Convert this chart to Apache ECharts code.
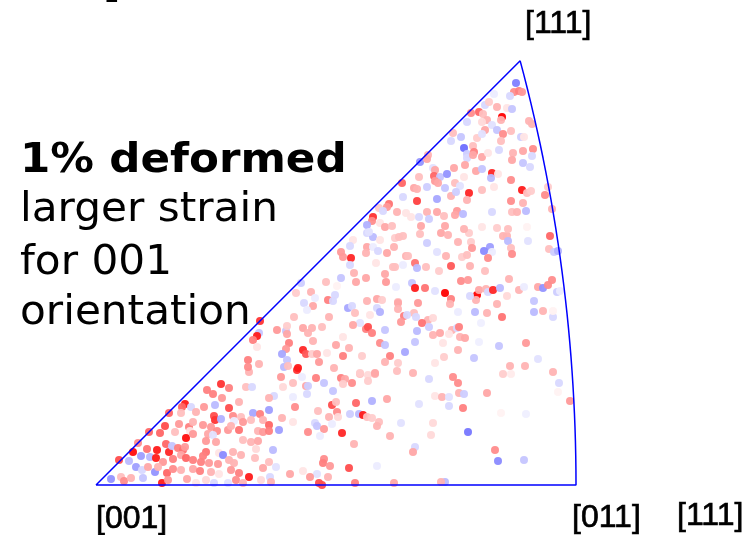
<!DOCTYPE html>
<html>
<head>
<meta charset="utf-8">
<script src="https://cdn.jsdelivr.net/npm/echarts@6/dist/echarts.min.js"></script>
<style>
  html, body { margin: 0; padding: 0; background: #fff; }
  #chart { width: 749px; height: 535px; }
</style>
</head>
<body>
<div id="chart"></div>
<script>
// Inverse pole figure: grains plotted in the stereographic [001]-[011]-[111] triangle.
// Each grain: [projected x, projected y, strain deviation (-1 = low / blue, +1 = high / red)]
// Projected units: the [001] pole is at the origin and [011] lies at x = 480.

const grainsNear001 = [
  [153,113,0.3],[125,101,0.8],[133,97,0.5],[111,95,0.5],[117,91,0.5],[150,98,0.25],[156,98,-0.2],[185,108,0.4],[187,98,0.15],[126,87,0.4],
  [89,81,0.9],[86,78,0.6],[95,78,-0.2],[108,78,0.4],[119,80,-0.35],[133,77,0.7],[143,83,0.3],[178,89,-0.2],[173,87,0.3],[173,75,-0.5],
  [157,72,-0.45],[164,71,0.5],[73,72,0.6],[85,72,0.25],[100,73,0.3],[118,69,0.7],[119,65,0.8],[125,66,-0.4],[137,69,0.45],[145,68,0.25],
  [155,65,0.25],[147,63,0.4],[138,64,-0.1],[167,65,0.3],[173,60,0.6],[186,67,0.3],[183,55,-0.5],[69,59,0.7],[83,61,0.4],[93,58,0.5],
  [97,63,0.3],[94,54,0.1],[107,60,0.4],[115,58,0.4],[121,54,0.45],[132,55,0.4],[135,59,0.3],[143,55,0.55],[162,54,0.3],[167,53,0.4],
  [173,54,0.5],[53,53,0.6],[64,52,0.6],[79,53,0.25],[90,47,0.95],[97,51,0.4],[112,51,0.35],[117,50,-0.15],[110,44,0.4],[120,43,0.35],
  [147,45,0.25],[155,43,0.3],[162,44,0.35],[42,42,0.45],[51,36,0.55],[61,35,0.9],[70,41,0.6],[73,33,0.85],[76,39,-0.3],[82,37,0.5],
  [87,35,0.55],[89,38,0.4],[85,30,0.35],[110,33,0.55],[107,29,0.5],[123,32,0.1],[127,30,-0.6],[145,30,0.3],[137,33,0.3],[160,36,0.15],
  [177,35,-0.35],[37,33,0.95],[23,25,0.7],[33,24,-0.35],[45,29,-0.5],[54,28,-0.35],[60,27,0.9],[67,23,0.4],[77,26,0.5],[90,27,0.6],
  [97,25,0.5],[105,23,0.5],[113,22,0.4],[122,21,0.4],[133,25,0.3],[138,22,0.3],[159,27,0.25],[173,23,0.25],[40,18,-0.5],[46,15,-0.2],
  [52,18,0.35],[59,13,-0.55],[62,18,0.3],[71,12,0.6],[77,16,0.45],[85,15,0.3],[97,16,0.35],[104,14,0.5],[115,13,0.3],[123,11,0.1],
  [135,15,0.4],[143,12,0.5],[153,8,0.9],[167,17,0.35],[180,18,-0.15],[15,6,-0.55],[25,8,0.25],[28,4,0.45],[35,7,0.3],[47,7,-0.3],
  [66,2,0.9],[72,5,0.4],[91,6,0.35],[100,2,0.1],[110,5,0.15],[118,2,-0.2],[132,2,-0.15],[140,5,0.45],[147,2,0.3],[165,5,0.15],
  [174,8,-0.2],[175,3,0.3]
];

const grainsLowMid = [
  [201,115,0.8],[206,108,-0.1],[220,107,0.5],[197,102,0.25],[210,99,0.35],[212,99,-0.25],[228,102,-0.3],[245,107,0.5],[249,106,0.35],
  [247,101,0.2],[256,102,0.45],[264,111,0.25],[272,110,0.15],[279,111,0.3],[272,104,0.2],[301,114,0.25],[317,112,0.3],[333,106,-0.2],[237,94,-0.3],
  [211,91,-0.2],[197,88,-0.1],[199,78,0.45],[236,80,0.7],[240,83,0.25],[260,82,0.6],[276,84,-0.4],[291,86,0.35],[323,81,-0.15],[339,89,0.1],
  [222,74,0.25],[241,73,0.45],[233,68,0.3],[242,68,0.15],[254,71,-0.25],[263,71,-0.35],[267,70,0.9],[271,68,0.25],[276,67,0.2],[283,63,0.25],
  [281,59,0.3],[197,63,0.1],[219,62,-0.2],[221,59,-0.3],[236,61,-0.1],[305,62,-0.15],[337,62,0.15],
  [212,53,0.45],[228,56,0.4],[246,52,0.85],[224,49,-0.1],[294,49,0.3],[335,50,0.15],[258,41,0.3],[319,38,-0.2],[317,33,0.35],[228,26,0.45],
  [227,22,0.5],[234,19,0.4],[253,17,0.7],[281,19,-0.1],[207,14,0.1],[194,11,0.35],[221,11,-0.15],[214,8,0.4],[232,8,0.3],[223,2,0.7],
  [226,0,0.7],[259,2,0.5],[298,2,0.35]
];

const grainsLowRight = [
  [357,108,0.45],[362,102,0.45],[407,111,0.2],[415,111,0.08],[457,113,0.3],[463,102,-0.2],[462,93,0.05],[474,84,0.4],
  [346,88,0.3],[353,88,-0.15],[363,92,0.3],[368,91,-0.25],[391,92,0.35],[353,79,-0.2],[367,77,0.5],[405,72,0.05],[430,71,-0.08],
  [372,53,-0.7],[399,35,0.45],[402,24,-0.6],[428,25,-0.3],[349,3,-0.35],[345,3,0.3]
];

const grainsMidLeft = [
  [271,252,-0.2],[277,248,-0.35],[257,245,0.1],[254,239,-0.2],[271,238,0.35],[277,238,-0.1],[284,245,0.1],[299,247,0.2],[245,233,0.4],[247,228,0.4],
  [255,227,0.85],[270,232,0.3],[282,234,-0.2],[291,232,0.35],[254,220,-0.2],[280,222,0.1],[297,218,0.25],[258,212,0.3],[289,211,0.35],[245,207,-0.3],
  [260,203,0.35],[270,207,0.35],[290,203,0.4],[230,203,0.25],[205,202,-0.25],[241,199,0.05],[215,193,0.3],[200,192,0.2],[239,190,-0.2],[219,187,-0.1],
  [232,185,0.5],[237,184,-0.2],[271,184,0.3],[281,186,0.35],[286,185,0.2],[302,183,0.25],[208,182,-0.2],[217,179,0.35],[211,175,-0.1],[252,177,-0.45],
  [256,179,-0.2],[259,172,0.25],[264,162,-0.15],[281,177,-0.2],[284,173,-0.4],[274,170,0.1],[233,168,0.3],[257,160,0.35],[270,156,0.5],
  [272,158,0.7],[276,152,0.5],[289,155,-0.3],[198,168,0.25],[164,164,0.8],[163,152,-0.3],[161,149,0.9],[181,155,0.4],[190,154,-0.3],[191,151,0.35],
  [191,159,0.2],[207,157,0.35],[212,152,0.3],[216,157,0.3],[226,158,0.25],[247,148,0.1],[157,145,0.5],[161,138,0.1],[217,144,0.3],
  [193,142,0.5],[240,140,0.35],[253,137,0.3],[284,142,0.45],[289,140,-0.3],[190,136,0.4],[207,135,0.85],[210,131,0.65],[216,131,0.2],[221,131,0.35],
  [231,132,0.1],[247,129,0.5],[266,129,0.2],[294,129,0.5],[186,131,-0.45],[191,125,-0.3],[152,125,0.5],[152,118,0.45],[163,121,0.3],[188,118,-0.35],
  [192,119,0.25],[202,117,0.9],[223,123,0.4],[238,117,0.3],[264,112,0.2],[279,112,0.35],[289,123,0.3],[302,122,0.2]
];

const grainsMidRight = [
  [303,248,0.25],[307,249,0.25],[324,251,0.25],[345,252,0.35],[352,250,0.3],[373,252,0.2],[407,249,0.3],[411,249,0.3],[454,249,0.6],[331,242,-0.25],
  [362,243,0.3],[375,243,0.2],[412,244,-0.35],[432,244,-0.15],[376,237,0.4],[394,238,-0.5],[388,234,-0.6],[396,233,-0.1],[415,237,0.25],[416,231,0.45],
  [453,236,0.25],[458,233,-0.25],[462,234,-0.4],[298,238,0.3],[341,233,-0.15],[310,229,0.3],[312,229,0.25],[350,229,0.3],[366,228,0.2],[371,230,0.25],
  [392,227,0.45],[319,222,0.55],[321,217,-0.35],[330,218,0.25],[355,219,0.65],[374,219,0.3],[299,218,0.25],[343,214,0.2],[389,214,0.25],[307,220,-0.1],
  [316,202,-0.3],[300,198,-0.1],[319,197,0.9],[329,197,0.55],[339,194,-0.15],[349,192,1.0],[365,204,0.45],[372,205,0.4],[355,186,0.5],[354,181,0.3],
  [381,190,1.0],[380,185,0.3],[374,189,-0.2],[383,195,0.35],[390,196,0.3],[392,193,-0.2],[397,195,0.85],[404,197,-0.35],[411,189,0.15],[413,206,0.3],
  [423,195,0.3],[428,198,-0.1],[442,198,0.35],[447,197,-0.55],[452,200,0.45],[456,205,0.45],[461,193,-0.25],[464,194,-0.1],[302,182,0.35],
  [302,176,0.3],[322,182,0.4],[318,172,0.25],[320,168,-0.2],[308,169,0.5],[311,170,-0.2],[305,163,0.4],[332,165,0.3],[326,162,0.55],
  [333,158,-0.25],[337,167,0.15],[362,173,-0.1],[379,173,-0.35],[391,172,0.3],[401,181,0.3],[406,168,0.55],[385,162,-0.08],[438,184,-0.3],[438,173,-0.35],
  [447,174,0.3],[457,168,-0.2],[457,174,0.05],[321,154,-0.35],[337,150,0.3],[344,152,0.35],[356,155,0.3],[361,157,-0.2],[363,158,0.5],[364,148,0.3],
  [369,147,0.35],[353,151,0.1],[383,143,-0.08],[319,143,-0.3],[347,142,0.1],[430,142,0.4],[403,139,-0.3],[309,133,-0.45],[348,128,0.2],
  [362,135,0.3],[378,127,-0.3],[442,126,-0.15],[339,122,0.1],[414,119,0.3],[429,119,0.3]
];

const grainsNear111 = [
  [420,402,-0.65],[418,393,0.45],[423,394,0.5],[426,393,0.4],[414,389,-0.2],[398,391,-0.1],[389,380,-0.2],[393,383,0.2],[401,378,0.3],[411,377,0.1],
  [416,376,-0.3],[383,373,0.6],[375,372,0.45],[387,371,0.25],[391,365,0.3],[406,368,1.0],[405,365,0.3],[371,363,-0.2],[386,363,0.15],[396,360,-0.15],
  [401,355,-0.3],[407,351,0.45],[389,355,0.35],[415,354,0.25],[433,364,0.3],[436,361,0.3],[425,348,-0.25],[428,348,0.1],[357,352,0.25],[355,344,-0.2],
  [365,348,-0.3],[381,347,0.2],[386,351,-0.15],[405,344,0.25],[368,337,-0.75],[377,339,0.25],[371,331,-0.25],[371,327,-0.2],[378,333,0.5],[377,330,0.35],
  [386,328,0.35],[392,332,0.1],[403,335,-0.2],[417,332,0.3],[427,334,0.35],[437,336,0.45],[416,325,0.35],[427,322,-0.3],[436,329,-0.2],[434,318,-0.2],
  [332,330,0.3],[324,323,-0.55],[331,326,0.35],[337,317,-0.15],[339,315,0.35],[358,317,0.35],[369,320,0.35],[380,314,0.35],[386,316,-0.3],[396,312,0.85],
  [395,307,-0.35],[402,311,0.1],[323,308,0.25],[338,309,0.6],[344,308,-0.3],[351,311,-0.55],[339,304,0.4],[342,302,0.35],[349,297,-0.3],[359,302,0.25],
  [364,299,-0.15],[368,308,0.1],[331,298,-0.25],[318,297,0.35],[321,296,0.3],[306,302,0.6],[307,288,-0.2],[321,284,0.75],[341,286,-0.45],[355,289,0.3],
  [360,293,-0.25],[373,292,0.85],[371,285,0.3],[386,295,0.25],[398,298,0.1],[415,305,0.45],[426,295,0.9],[427,282,0.3],[431,292,0.25],[435,294,0.2],
  [415,284,0.45],[449,290,0.45],[452,298,0.2],[293,281,0.55],[291,278,0.4],[283,277,0.2],[287,274,-0.2],[301,273,0.3],[310,272,0.1],[277,268,0.8],
  [276,264,0.45],[271,260,-0.4],[284,262,0.1],[289,258,0.35],[296,259,0.25],[315,268,0.1],[323,268,-0.2],[331,273,0.3],[333,266,-0.25],[341,273,0.35],
  [348,269,0.25],[361,274,0.4],[359,270,0.35],[367,271,-0.35],[349,259,0.35],[325,259,0.35],[368,256,0.3],[396,273,-0.2],[416,273,0.25],[421,273,0.3],
  [430,274,-0.35],[386,258,0.1],[401,257,0.2],[412,256,0.25],[431,258,0.05],[456,276,0.3],[273,253,-0.15]
];

// Pole labels of the standard triangle
const poleLabels = ['[001]', '[011]', '[111]'];
const headline = '1% deformed';
const noteLines = ['larger strain', 'for 001', 'orientation'];

// Stereographic scale chosen so that the [011] pole (tan 22.5°) lands at x = 480
const S = 480 / Math.tan(Math.PI / 8);

// Triangle outline: [001] -> [011] along the x axis, great-circle arc to [111]
// (circle centred at (-S, 0) with radius S*sqrt2), then straight back to [001].
function triangleOutline() {
  const pts = [[0, 0], [S * (Math.SQRT2 - 1), 0]];
  for (let deg = 0.5; deg <= 15.0001; deg += 0.5) {
    const t = deg * Math.PI / 180;
    pts.push([-S + S * Math.SQRT2 * Math.cos(t), S * Math.SQRT2 * Math.sin(t)]);
  }
  pts.push([0, 0]);
  return pts;
}

const grains = [].concat(grainsNear001, grainsLowMid, grainsLowRight,
                         grainsMidLeft, grainsMidRight, grainsNear111);

const chart = echarts.init(document.getElementById('chart'), null, { renderer: 'canvas' });

const textFont = '"DejaVu Sans", Verdana, sans-serif';
const poleFont = '32px "Liberation Sans", Arial, sans-serif';

function note(str, y, bold) {
  return {
    type: 'text', x: 20, y: y, scaleX: bold ? 1.09 : 1.055,
    style: { text: str, font: (bold ? 'bold ' : '') + '40px ' + textFont, fill: '#000', verticalAlign: 'middle' }
  };
}
function pole(str, x, y) {
  return {
    type: 'text', x: x, y: y,
    style: { text: str, font: poleFont, fill: '#000', stroke: '#000', lineWidth: 0.7, verticalAlign: 'middle' }
  };
}

chart.setOption({
  animation: false,
  backgroundColor: '#ffffff',
  grid: { left: 96, top: 55, width: 480, height: 430 },
  xAxis: { type: 'value', min: 0, max: 480, show: false },
  yAxis: { type: 'value', min: 0, max: 430, show: false },
  visualMap: {
    show: false,
    type: 'continuous',
    min: -1,
    max: 1,
    dimension: 2,
    seriesIndex: 0,
    inRange: { color: ['#3c3cff', '#ffffff', '#ff0000'] }
  },
  series: [
    {
      type: 'scatter',
      data: grains,
      symbolSize: 8,
      clip: false,
      itemStyle: { opacity: 0.95 },
      silent: true,
      z: 2
    },
    {
      type: 'line',
      data: triangleOutline(),
      showSymbol: false,
      smooth: false,
      clip: false,
      lineStyle: { color: '#0000ff', width: 1.5 },
      silent: true,
      z: 3
    }
  ],
  graphic: [
    note(headline, 162, true),
    note(noteLines[0], 211, false),
    note(noteLines[1], 264, false),
    note(noteLines[2], 314, false),
    pole(poleLabels[0], 96, 519),
    pole(poleLabels[1], 572, 518),
    pole(poleLabels[2], 525, 24),
    pole(poleLabels[2], 677, 516),
    { type: 'text', x: 106, y: -17, style: { text: ']', font: 'bold 40px "Liberation Sans", Arial, sans-serif', fill: '#000', verticalAlign: 'middle' } }
  ]
});
</script>
</body>
</html>
